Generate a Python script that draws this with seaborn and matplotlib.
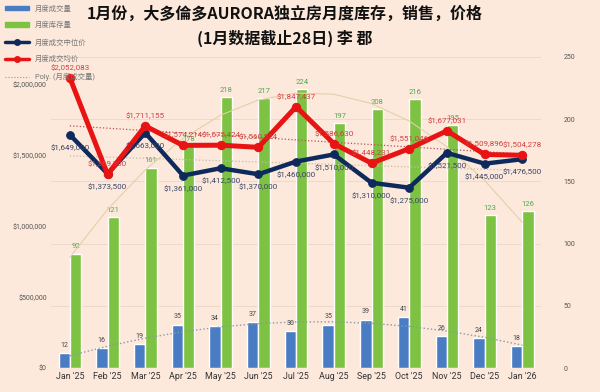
import numpy as np
import pandas as pd
import matplotlib
matplotlib.use("Agg")
import matplotlib.pyplot as plt
import seaborn as sns
from matplotlib.lines import Line2D
from matplotlib.patches import Patch

sns.set_style("white")
plt.rcParams['font.family'] = ['Roboto', 'Noto Sans CJK SC', 'DejaVu Sans']

# data
months = ["Jan '25", "Feb '25", "Mar '25", "Apr '25", "May '25", "Jun '25", "Jul '25",
          "Aug '25", "Sep '25", "Oct '25", "Nov '25", "Dec '25", "Jan '26"]
volume = [12, 16, 19, 35, 34, 37, 30, 35, 39, 41, 26, 24, 18]
inventory = [92, 121, 161, 178, 218, 217, 224, 197, 208, 216, 195, 123, 126]
median_price = [1649000, 1373500, 1663000, 1361000, 1412500, 1370000, 1460000,
                1510000, 1310000, 1275000, 1521500, 1445000, 1476500]
mean_price = [2052083, 1369300, 1711155, 1574214, 1575424, 1560524, 1847437,
              1586630, 1448231, 1551046, 1677031, 1509896, 1504278]

bg = '#FCE9DC'
c_vol = '#4A7CC4'
c_inv = '#7DC242'
c_med = '#0E2A5C'
c_mean = '#E81414'

bars = pd.DataFrame({
    'month': months * 2,
    'count': volume + inventory,
    'kind': ['月度成交量'] * len(months) + ['月度库存量'] * len(months),
})
prices = pd.DataFrame({'month': months, 'median': median_price, 'mean': mean_price})

fig = plt.figure(figsize=(6, 3.92), dpi=100, facecolor=bg)
ax1 = fig.add_axes([0.085, 0.061, 0.817, 0.794])
ax1.set_facecolor(bg)

sns.barplot(data=bars, x='month', y='count', hue='kind', palette=[c_vol, c_inv],
            width=0.6, ax=ax1, legend=False, saturation=1)
ax1.set_ylim(0, 250)
ax1.set_yticks(range(0, 251, 50))
ax1.set_xlabel('')
ax1.set_ylabel('')
for i, v in enumerate(volume):
    ax1.annotate(str(v), (i - 0.15, v), xytext=(0, 3), textcoords='offset points',
                 ha='center', va='bottom', fontsize=5, color='#444444')
for i, v in enumerate(inventory):
    ax1.annotate(str(v), (i + 0.15, v), xytext=(0, 3), textcoords='offset points',
                 ha='center', va='bottom', fontsize=5.5, color='#4FA84F')

x = np.arange(len(months))
# polynomial trendlines
p_vol = np.polyval(np.polyfit(x, volume, 2), x)
p_inv = np.polyval(np.polyfit(x, inventory, 2), x)
ax1.plot(x, p_vol, ls=':', color='#8899AA', lw=1.0, zorder=3)
ax1.plot(x, p_inv, ls='-', color='#E5CFA8', lw=0.8, zorder=3)

ax2 = ax1.twinx()
ax1.yaxis.tick_right()
ax1.tick_params(axis='y', labelsize=5, colors='#555555', length=0, pad=16)
ax1.tick_params(axis='x', labelsize=6.4, colors='#333333', length=0, pad=3)
ax2.yaxis.tick_left()
ax2.set_ylim(0, 2200000)
ax2.set_yticks(range(0, 2000001, 500000))
ax2.yaxis.set_major_formatter(matplotlib.ticker.FuncFormatter(lambda v, p: f'${v:,.0f}'))
ax2.tick_params(axis='y', labelsize=5, colors='#555555', length=0, pad=3)
ax1.grid(axis='y', color='#EAD6C8', lw=0.6)
ax1.set_axisbelow(True)

t_med = np.polyval(np.polyfit(x, median_price, 1), x)
t_mean = np.polyval(np.polyfit(x, mean_price, 1), x)
ax2.plot(x, t_med, ls=':', color='#C9B9A8', lw=0.9)
ax2.plot(x, t_mean, ls=':', color='#C0504D', lw=0.9)

sns.lineplot(data=prices, x='month', y='median', sort=False, color=c_med, lw=3.2,
             marker='o', markersize=5.5, markeredgecolor=c_med, ax=ax2)
sns.lineplot(data=prices, x='month', y='mean', sort=False, color=c_mean, lw=3.6,
             marker='o', markersize=6, markeredgecolor=c_mean, ax=ax2)
ax2.set_xlabel('')
ax2.set_ylabel('')

for i, v in enumerate(median_price):
    ax2.annotate(f'${v:,.0f}', (i, v), xytext=(0, -7), textcoords='offset points',
                 ha='center', va='top', fontsize=5.8, color='#3A4466')
for i, v in enumerate(mean_price):
    ax2.annotate(f'${v:,.0f}', (i, v), xytext=(0, 5), textcoords='offset points',
                 ha='center', va='bottom', fontsize=5.8, color='#D04040')

for a in (ax1, ax2):
    for s in a.spines.values():
        s.set_visible(False)
ax1.set_xlim(-0.5, len(months) - 0.5)

handles = [
    Patch(color=c_vol, label='月度成交量'),
    Patch(color=c_inv, label='月度库存量'),
    Line2D([], [], color=c_med, lw=2.5, marker='o', markersize=4, label='月度成交中位价'),
    Line2D([], [], color=c_mean, lw=2.5, marker='o', markersize=4, label='月度成交均价'),
    Line2D([], [], color='#8899AA', lw=0.8, ls=':', label='Poly. (月度成交量)'),
]
leg = fig.legend(handles=handles, loc='upper left', bbox_to_anchor=(0.0, 1.0),
                 frameon=False, fontsize=5.3, labelcolor='#777777', handlelength=3.2,
                 handleheight=0.6, labelspacing=1.3, borderaxespad=0.3)

fig.text(0.475, 0.965, '1月份，大多倫多AURORA独立房月度库存，销售，价格',
         ha='center', va='center', fontsize=11.5, fontweight='bold', color='#111111',
         family=['Noto Sans CJK SC', 'DejaVu Sans'])
fig.text(0.475, 0.903, '(1月数据截止28日) 李 郡',
         ha='center', va='center', fontsize=11.5, fontweight='bold', color='#111111',
         family=['Noto Sans CJK SC', 'DejaVu Sans'])

fig.savefig('out.png', dpi=100, facecolor=bg)
